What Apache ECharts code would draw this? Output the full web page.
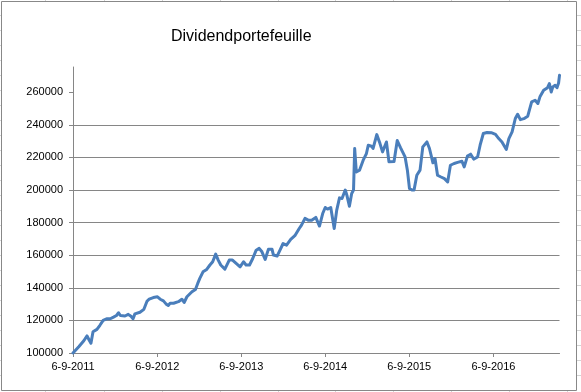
<!DOCTYPE html>
<html>
<head>
<meta charset="utf-8">
<script src="https://cdn.jsdelivr.net/npm/echarts@6/dist/echarts.min.js"></script>
<style>html,body{margin:0;padding:0;background:#fff}#c{width:581px;height:392px}</style>
</head>
<body>
<div id="c"></div>
<script>
var titleText = 'Dividendportefeuille';
var tickDates = ['2011-09-06','2012-09-06','2013-09-06','2014-09-06','2015-09-06','2016-09-06'];
var tickLabels = ['6-9-2011','6-9-2012','6-9-2013','6-9-2014','6-9-2015','6-9-2016'];
var yTicks = [100000,120000,140000,160000,180000,200000,220000,240000,260000];
var dates = [
'2011-09-06','2011-10-02','2011-10-23','2011-11-06','2011-11-15','2011-11-23','2011-12-02','2011-12-19',
'2012-01-01','2012-01-15','2012-01-30','2012-02-15','2012-02-29','2012-03-13','2012-03-22','2012-03-30',
'2012-04-19','2012-05-03','2012-05-15','2012-05-24','2012-06-01','2012-06-23','2012-07-10','2012-07-24',
'2012-08-02','2012-08-20','2012-09-07','2012-09-19','2012-10-03','2012-10-15','2012-10-24','2012-11-01',
'2012-11-16','2012-12-07','2012-12-22','2013-01-01','2013-01-13','2013-02-04','2013-02-19','2013-03-01',
'2013-03-10','2013-03-24','2013-04-09','2013-04-23','2013-05-05','2013-05-18','2013-05-29','2013-06-09',
'2013-06-27','2013-07-16','2013-07-30','2013-08-15','2013-09-01','2013-09-16','2013-09-27','2013-10-12',
'2013-10-26','2013-11-10','2013-11-23','2013-12-05','2013-12-19','2014-01-02','2014-01-18','2014-01-24',
'2014-02-09','2014-02-23','2014-03-07','2014-03-22','2014-04-09','2014-04-27','2014-05-16','2014-05-26',
'2014-06-10','2014-06-24','2014-07-09','2014-07-27','2014-08-12','2014-08-26','2014-09-06','2014-09-16',
'2014-09-30','2014-10-15','2014-10-26','2014-11-07','2014-11-18','2014-12-02','2014-12-09','2014-12-20',
'2014-12-30','2015-01-07','2015-01-12','2015-01-19','2015-02-02','2015-02-18','2015-03-04','2015-03-12',
'2015-03-26','2015-04-02','2015-04-18','2015-05-02','2015-05-13','2015-05-30','2015-06-10','2015-07-02',
'2015-07-16','2015-07-30','2015-08-19','2015-08-29','2015-09-07','2015-09-18','2015-09-27','2015-10-09',
'2015-10-23','2015-11-04','2015-11-22','2015-12-03','2015-12-18','2015-12-27','2016-01-07','2016-01-22',
'2016-02-06','2016-02-20','2016-03-03','2016-03-19','2016-04-07','2016-04-22','2016-05-02','2016-05-16',
'2016-05-30','2016-06-12','2016-06-19','2016-06-29','2016-07-10','2016-07-24','2016-08-09','2016-08-30',
'2016-09-15','2016-09-29','2016-10-13','2016-10-20','2016-11-01','2016-11-12','2016-11-26','2016-12-03',
'2016-12-10','2016-12-20','2017-01-01','2017-01-16','2017-02-02','2017-02-19','2017-03-06','2017-03-18',
'2017-03-27','2017-04-12','2017-04-29','2017-05-07','2017-05-15','2017-05-22','2017-06-01','2017-06-09',
'2017-06-16','2017-06-20'
];
var values = [
100000,104000,107500,110500,108000,106000,113000,114500,
117000,120000,121000,121000,122000,123000,124700,123000,
122700,123700,122500,121000,124000,125000,126800,131900,
133000,134000,134500,133000,132000,130000,129200,130500,
130500,131500,133000,131000,134500,137600,139000,142700,
145800,149800,151300,154000,156000,160700,157000,154000,
151500,157000,157000,155000,152900,156000,154000,154000,
158000,163100,164200,162100,157400,163600,163600,160100,
159500,163600,167200,166200,169700,172000,176400,178500,
182600,181500,181500,183200,177900,185600,189300,188300,
189300,176400,187700,195200,194800,200000,196900,190100,
197900,200000,225500,211100,212200,218300,222400,227500,
226900,225500,234000,228500,223400,229500,217300,217500,
230400,226000,220300,212200,201000,200000,200000,209100,
212200,226500,229500,225500,216700,219300,209100,208000,
207000,205000,215200,216300,217100,217700,214200,220800,
222000,219000,218700,220300,227500,234700,235300,235100,
234200,231600,229500,230600,224900,231600,235700,236700,
243900,246500,243200,243800,245300,254100,255100,253100,
257200,261200,262800,265300,260200,263300,264300,262800,
265700,270400
];

var tickVals = tickDates.map(function (d) { return Date.parse(d); });
var seriesData = dates.map(function (d, i) { return [Date.parse(d), values[i]]; });

var graphics = [{
  type: 'rect', silent: true,
  shape: {x: 1.5, y: 1.5, width: 575, height: 389},
  style: {fill: 'none', stroke: '#888888', lineWidth: 1}
}];
[45,104,162,220,278,335,393,451,509,567].forEach(function (x) {
  graphics.push({type: 'line', silent: true, shape: {x1: x + 0.5, y1: 0, x2: x + 0.5, y2: 1}, style: {stroke: '#d4d4d4', lineWidth: 1}});
  graphics.push({type: 'line', silent: true, shape: {x1: x + 0.5, y1: 391, x2: x + 0.5, y2: 392}, style: {stroke: '#d4d4d4', lineWidth: 1}});
});
for (var k = 1; k <= 25; k++) {
  graphics.push({type: 'line', silent: true, shape: {x1: 0, y1: 15 * k + 0.5, x2: 1, y2: 15 * k + 0.5}, style: {stroke: '#d4d4d4', lineWidth: 1}});
  graphics.push({type: 'line', silent: true, shape: {x1: 577, y1: 15 * k + 0.5, x2: 581, y2: 15 * k + 0.5}, style: {stroke: '#d4d4d4', lineWidth: 1}});
}

var chart = echarts.init(document.getElementById('c'), null, {renderer: 'canvas'});
chart.setOption({
  animation: false,
  backgroundColor: '#ffffff',
  title: {
    text: titleText, left: 171, top: 29, padding: 0,
    textStyle: {fontFamily: 'Liberation Sans', fontSize: 16, fontWeight: 'normal', color: '#000'}
  },
  grid: {left: 73, right: 21.5, top: 67, bottom: 39, containLabel: false},
  xAxis: {
    type: 'value',
    min: tickVals[0],
    max: seriesData[seriesData.length - 1][0],
    splitLine: {show: false},
    axisLine: {show: true, lineStyle: {color: '#868686', width: 1}},
    axisTick: {show: true, length: 4, lineStyle: {color: '#868686'}, customValues: tickVals},
    axisLabel: {
      customValues: tickVals, margin: 8,
      fontFamily: 'Liberation Sans', fontSize: 11, color: '#000',
      formatter: function (v) {
        var i = tickVals.indexOf(v);
        return i >= 0 ? tickLabels[i] : '';
      }
    }
  },
  yAxis: {
    type: 'value',
    min: 100000, max: 275500, interval: 20000,
    axisLine: {show: true, lineStyle: {color: '#868686', width: 1}},
    axisTick: {show: true, length: 4, lineStyle: {color: '#868686'}, customValues: yTicks},
    splitLine: {show: true, showMaxLine: false, lineStyle: {color: '#868686', width: 1}},
    axisLabel: {
      customValues: yTicks, margin: 10,
      fontFamily: 'Liberation Sans', fontSize: 11, color: '#000',
      formatter: function (v) { return String(v); }
    }
  },
  series: [{
    type: 'line', data: seriesData, showSymbol: false, symbol: 'none',
    lineStyle: {color: '#4A7EBB', width: 3, join: 'round', cap: 'round'},
    clip: false
  }],
  graphic: graphics
});
</script>
</body>
</html>
